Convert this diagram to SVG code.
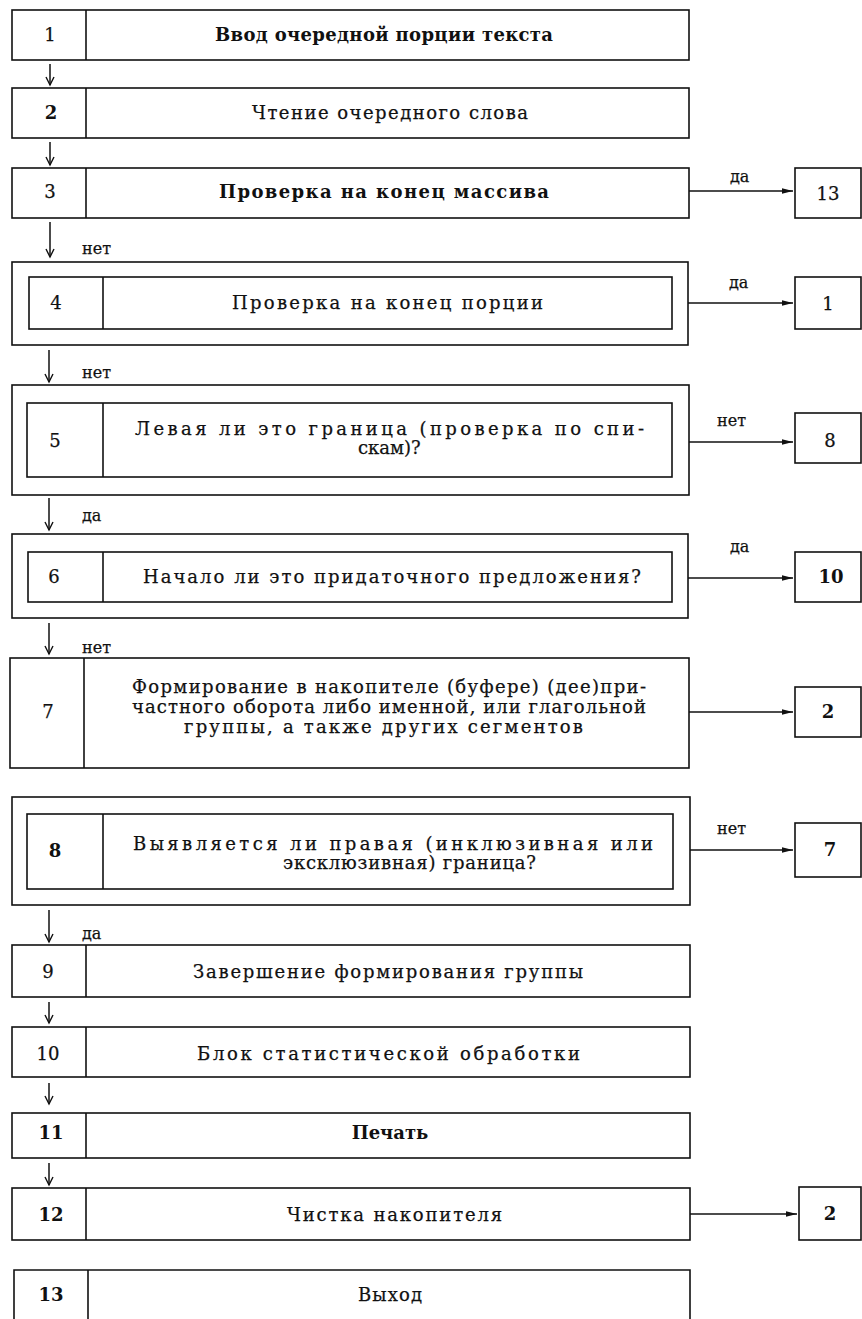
<svg xmlns="http://www.w3.org/2000/svg" width="862" height="1319" viewBox="0 0 862 1319">
  <style>
    .box { fill: none; stroke: #111; stroke-width: 1.6; }
    .edge { stroke: #111; stroke-width: 1.6; fill: none; }
    .flow { stroke: #111; stroke-width: 1.5; fill: none; }
    .t { font-family: "DejaVu Serif", "Liberation Serif", serif; font-size: 18px; fill: #111; stroke: #111; stroke-width: 0.25; }
    .n { text-anchor: middle; }
    .b { font-weight: bold; stroke-width: 0; }
    .lbl { font-family: "DejaVu Serif", "Liberation Serif", serif; font-size: 16px; fill: #111; stroke: #111; stroke-width: 0.25; }
  </style>
  <defs>
    <marker id="headDown" markerUnits="userSpaceOnUse" markerWidth="12" markerHeight="12" refX="10" refY="5" orient="auto">
      <path d="M2,1 L10,5 L2,9" fill="none" stroke="#111" stroke-width="1.4"/>
    </marker>
    <marker id="headRight" markerUnits="userSpaceOnUse" markerWidth="12" markerHeight="10" refX="11" refY="4" orient="auto">
      <path d="M0,1.2 L11,4 L0,6.8 Z" fill="#111"/>
    </marker>
  </defs>
  <rect width="862" height="1319" fill="#fff"/>

  <!-- main column -->
  <g id="node1">
    <rect class="box" x="12" y="10" width="677" height="50"/>
    <line class="edge" x1="86" y1="10" x2="86" y2="60"/>
    <text class="t n" x="50" y="41">1</text>
    <text class="t b" x="215" y="41" textLength="338" lengthAdjust="spacing">Ввод очередной порции текста</text>
  </g>
  <g id="node2">
    <rect class="box" x="12" y="88" width="677" height="50"/>
    <line class="edge" x1="86" y1="88" x2="86" y2="138"/>
    <text class="t n b" x="51" y="119">2</text>
    <text class="t" x="252" y="119" textLength="276" lengthAdjust="spacing">Чтение очередного слова</text>
  </g>
  <g id="node3">
    <rect class="box" x="12" y="168" width="677" height="50"/>
    <line class="edge" x1="86" y1="168" x2="86" y2="218"/>
    <text class="t n" x="50" y="198">3</text>
    <text class="t b" x="219" y="198" textLength="330" lengthAdjust="spacing">Проверка на конец массива</text>
  </g>
  <g id="node4">
    <rect class="box" x="12" y="262" width="676" height="83"/>
    <rect class="box" x="29" y="277" width="643" height="52"/>
    <line class="edge" x1="103" y1="277" x2="103" y2="329"/>
    <text class="t n" x="56" y="309">4</text>
    <text class="t" x="232" y="309" textLength="311" lengthAdjust="spacing">Проверка на конец порции</text>
  </g>
  <g id="node5">
    <rect class="box" x="12" y="385" width="677" height="110"/>
    <rect class="box" x="27" y="403" width="645" height="74"/>
    <line class="edge" x1="103" y1="403" x2="103" y2="477"/>
    <text class="t n" x="55" y="447">5</text>
    <text class="t" x="135" y="435" textLength="509" lengthAdjust="spacing">Левая ли это граница (проверка по спи-</text>
    <text class="t" x="358" y="454">скам)?</text>
  </g>
  <g id="node6">
    <rect class="box" x="12" y="534" width="676" height="84"/>
    <rect class="box" x="28" y="552" width="644" height="50"/>
    <line class="edge" x1="103" y1="552" x2="103" y2="602"/>
    <text class="t n" x="54" y="583">6</text>
    <text class="t" x="143" y="583" textLength="498" lengthAdjust="spacing">Начало ли это придаточного предложения?</text>
  </g>
  <g id="node7">
    <rect class="box" x="10" y="658" width="679" height="110"/>
    <line class="edge" x1="84" y1="658" x2="84" y2="768"/>
    <text class="t n" x="48" y="718">7</text>
    <text class="t" x="132" y="693" textLength="514" lengthAdjust="spacing">Формирование в накопителе (буфере) (дее)при-</text>
    <text class="t" x="132" y="713" textLength="514" lengthAdjust="spacing">частного оборота либо именной, или глагольной</text>
    <text class="t" x="184" y="733" textLength="399" lengthAdjust="spacing">группы, а также других сегментов</text>
  </g>
  <g id="node8">
    <rect class="box" x="12" y="797" width="678" height="108"/>
    <rect class="box" x="27" y="814" width="646" height="75"/>
    <line class="edge" x1="103" y1="814" x2="103" y2="889"/>
    <text class="t n b" x="55" y="857">8</text>
    <text class="t" x="133" y="850" textLength="520" lengthAdjust="spacing">Выявляется ли правая (инклюзивная или</text>
    <text class="t" x="283" y="869" textLength="253" lengthAdjust="spacing">эксклюзивная) граница?</text>
  </g>
  <g id="node9">
    <rect class="box" x="12" y="945" width="678" height="52"/>
    <line class="edge" x1="86" y1="945" x2="86" y2="997"/>
    <text class="t n" x="48" y="978">9</text>
    <text class="t" x="193" y="978" textLength="390" lengthAdjust="spacing">Завершение формирования группы</text>
  </g>
  <g id="node10">
    <rect class="box" x="12" y="1027" width="678" height="50"/>
    <line class="edge" x1="86" y1="1027" x2="86" y2="1077"/>
    <text class="t n" x="48" y="1060">10</text>
    <text class="t" x="197" y="1060" textLength="383" lengthAdjust="spacing">Блок статистической обработки</text>
  </g>
  <g id="node11">
    <rect class="box" x="12" y="1113" width="678" height="45"/>
    <line class="edge" x1="86" y1="1113" x2="86" y2="1158"/>
    <text class="t n b" x="51" y="1139">11</text>
    <text class="t n b" x="390" y="1139">Печать</text>
  </g>
  <g id="node12">
    <rect class="box" x="12" y="1188" width="678" height="52"/>
    <line class="edge" x1="86" y1="1188" x2="86" y2="1240"/>
    <text class="t n b" x="51" y="1221">12</text>
    <text class="t" x="287" y="1221" textLength="215" lengthAdjust="spacing">Чистка накопителя</text>
  </g>
  <g id="node13">
    <path class="edge" d="M14,1319 V1270 H690 V1319 M88,1270 V1319"/>
    <text class="t n b" x="51" y="1301">13</text>
    <text class="t" x="358" y="1301" textLength="64" lengthAdjust="spacing">Выход</text>
  </g>

  <!-- jump targets on the right -->
  <g id="goto13">
    <rect class="box" x="795" y="168" width="66" height="50"/>
    <text class="t n" x="828" y="200">13</text>
  </g>
  <g id="goto1">
    <rect class="box" x="795" y="277" width="66" height="52"/>
    <text class="t n" x="828" y="310">1</text>
  </g>
  <g id="goto8">
    <rect class="box" x="795" y="413" width="66" height="50"/>
    <text class="t n" x="830" y="447">8</text>
  </g>
  <g id="goto10">
    <rect class="box" x="795" y="552" width="66" height="50"/>
    <text class="t n b" x="831" y="583">10</text>
  </g>
  <g id="goto2a">
    <rect class="box" x="795" y="687" width="66" height="50"/>
    <text class="t n b" x="828" y="718">2</text>
  </g>
  <g id="goto7">
    <rect class="box" x="795" y="823" width="66" height="54"/>
    <text class="t n b" x="830" y="856">7</text>
  </g>
  <g id="goto2b">
    <rect class="box" x="799" y="1187" width="62" height="53"/>
    <text class="t n b" x="830" y="1220">2</text>
  </g>

  <!-- connectors -->
  <g id="connectors">
    <line class="flow" x1="50" y1="64" x2="50" y2="85" marker-end="url(#headDown)"/>
    <line class="flow" x1="50" y1="142" x2="50" y2="165" marker-end="url(#headDown)"/>
    <line class="flow" x1="50" y1="222" x2="50" y2="257" marker-end="url(#headDown)"/>
    <line class="flow" x1="49" y1="350" x2="49" y2="382" marker-end="url(#headDown)"/>
    <line class="flow" x1="49" y1="498" x2="49" y2="530" marker-end="url(#headDown)"/>
    <line class="flow" x1="49" y1="623" x2="49" y2="654" marker-end="url(#headDown)"/>
    <line class="flow" x1="49" y1="910" x2="49" y2="942" marker-end="url(#headDown)"/>
    <line class="flow" x1="49" y1="1002" x2="49" y2="1023" marker-end="url(#headDown)"/>
    <line class="flow" x1="49" y1="1083" x2="49" y2="1104" marker-end="url(#headDown)"/>
    <line class="flow" x1="49" y1="1163" x2="49" y2="1185" marker-end="url(#headDown)"/>

    <line class="flow" x1="689" y1="191" x2="793" y2="191" marker-end="url(#headRight)"/>
    <line class="flow" x1="688" y1="303" x2="793" y2="303" marker-end="url(#headRight)"/>
    <line class="flow" x1="689" y1="442" x2="793" y2="442" marker-end="url(#headRight)"/>
    <line class="flow" x1="688" y1="578" x2="793" y2="578" marker-end="url(#headRight)"/>
    <line class="flow" x1="689" y1="712" x2="793" y2="712" marker-end="url(#headRight)"/>
    <line class="flow" x1="690" y1="850" x2="793" y2="850" marker-end="url(#headRight)"/>
    <line class="flow" x1="690" y1="1214" x2="797" y2="1214" marker-end="url(#headRight)"/>

    <text class="lbl" x="82" y="254">нет</text>
    <text class="lbl" x="82" y="378">нет</text>
    <text class="lbl" x="82" y="521">да</text>
    <text class="lbl" x="82" y="653">нет</text>
    <text class="lbl" x="82" y="939">да</text>

    <text class="lbl" x="730" y="182">да</text>
    <text class="lbl" x="729" y="288">да</text>
    <text class="lbl" x="717" y="426">нет</text>
    <text class="lbl" x="730" y="552">да</text>
    <text class="lbl" x="717" y="834">нет</text>
  </g>
</svg>
